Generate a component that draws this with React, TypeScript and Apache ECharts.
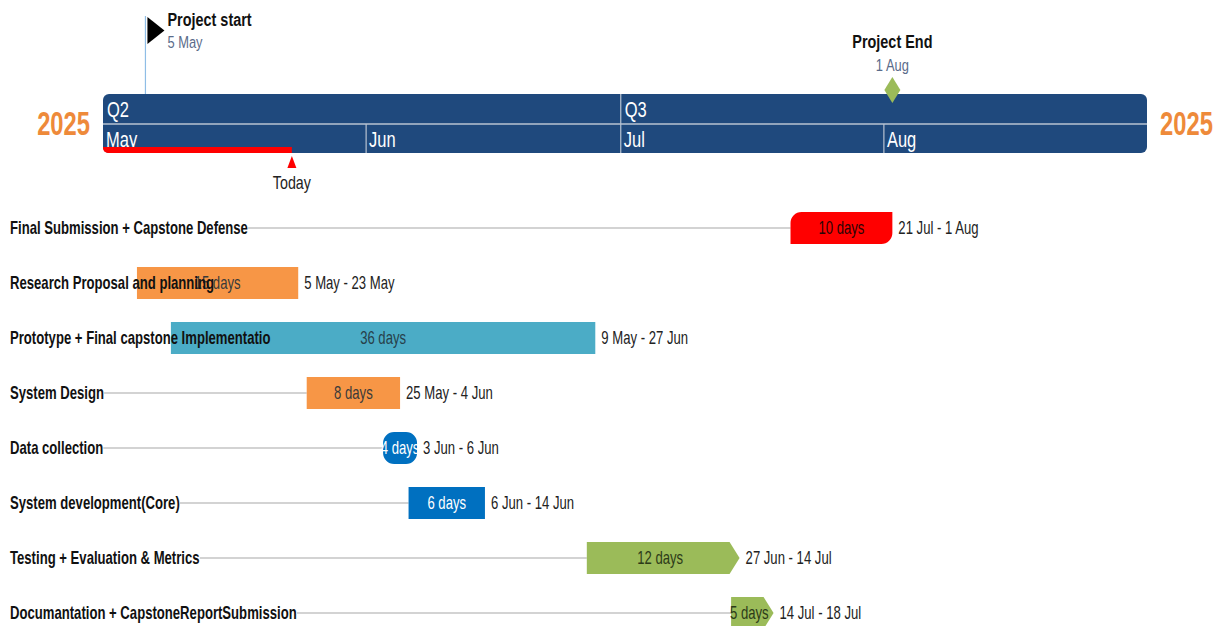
import React, { useEffect, useRef } from "react";
import * as echarts from "echarts";

// ---------- data ----------
const axisStart = "2025-05-01";
const axisEnd = "2025-09-01";

const taskNames = [
  "Final Submission + Capstone Defense",
  "Research Proposal and planning",
  "Prototype + Final capstone Implementatio",
  "System Design",
  "Data collection",
  "System development(Core)",
  "Testing + Evaluation & Metrics",
  "Documantation + CapstoneReportSubmission",
];
const taskStarts = ["2025-07-21", "2025-05-05", "2025-05-09", "2025-05-25", "2025-06-03", "2025-06-06", "2025-06-27", "2025-07-14"];
const taskEnds = ["2025-08-01", "2025-05-23", "2025-06-27", "2025-06-04", "2025-06-06", "2025-06-14", "2025-07-14", "2025-07-18"];
const taskDurations = ["10 days", "15 days", "36 days", "8 days", "4 days", "6 days", "12 days", "5 days"];
const taskRanges = ["21 Jul - 1 Aug", "5 May - 23 May", "9 May - 27 Jun", "25 May - 4 Jun", "3 Jun - 6 Jun", "6 Jun - 14 Jun", "27 Jun - 14 Jul", "14 Jul - 18 Jul"];

const taskColors = ["#FF0000", "#F79646", "#4BACC6", "#F79646", "#0070C0", "#0070C0", "#9BBB59", "#9BBB59"];
const taskTextColors = ["#2a0505", "#3a3a3a", "#27404a", "#3a3a3a", "#ffffff", "#ffffff", "#2c3a18", "#2c3a18"];
const taskShapes = ["diag", "rect", "rect", "rect", "pill", "rect", "arrow", "arrow"];

const monthStarts = ["2025-05-01", "2025-06-01", "2025-07-01", "2025-08-01"];
const monthEnds = ["2025-06-01", "2025-07-01", "2025-08-01", "2025-09-01"];
const monthLabels = ["May", "Jun", "Jul", "Aug"];

const quarterStarts = ["2025-04-01", "2025-07-01"];
const quarterEnds = ["2025-07-01", "2025-10-01"];
const quarterLabels = ["Q2", "Q3"];

const milestoneNames = ["Project start", "Project End"];
const milestoneDates = ["2025-05-05", "2025-08-01"];
const milestoneLabels = ["5 May", "1 Aug"];
const milestoneKinds = ["flag", "diamond"];

const todayDate = "2025-05-23T06:00:00";
const todayLabel = "Today";

// ---------- helpers ----------
const DAY = 86400000;
const t = (s: string) => new Date(s.length > 10 ? s : s + "T00:00:00").getTime();
const FONT = '"Liberation Sans", Arial, sans-serif';
const SX = 0.75; // condensed look

let measureCtx: CanvasRenderingContext2D | null = null;
function measure(text: string, size: number, weight: string, sx: number) {
  if (!measureCtx) measureCtx = document.createElement("canvas").getContext("2d");
  if (!measureCtx) return text.length * size * 0.45 * sx;
  measureCtx.font = `${weight} ${size}px ${FONT}`;
  return measureCtx.measureText(text).width * sx;
}

function txt(text: string, x: number, y: number, o: { size: number; fill: string; weight?: string; align?: string; sx?: number }) {
  return {
    type: "text",
    x,
    y,
    scaleX: o.sx ?? SX,
    style: {
      text,
      x: 0,
      y: 0,
      align: o.align ?? "left",
      verticalAlign: "middle",
      fill: o.fill,
      fontFamily: FONT,
      fontSize: o.size,
      fontWeight: o.weight ?? "normal",
    },
  };
}

const BAND_TOP = 94;
const BAND_MID = 124;
const BAND_BOT = 153;
const BAND_COLOR = "#1F497D";
const DIV_COLOR = "#b9c3d2";
const ROW_H = 55;
const GRID_TOP = 200.5;
const GRID_H = 626 - GRID_TOP;

export default function App() {
  const ref = useRef<HTMLDivElement>(null);

  useEffect(() => {
    if (!ref.current) return;
    const chart = echarts.init(ref.current, undefined, { renderer: "svg" });
    const xMin = t(axisStart);
    const xMax = t(axisEnd);

    const taskData = taskNames.map((_, i) => [t(taskStarts[i]), t(taskEnds[i]) + DAY, i]);

    const option: any = {
      animation: false,
      backgroundColor: "#ffffff",
      grid: { left: 103, width: 1044, top: GRID_TOP, height: GRID_H },
      xAxis: { type: "time", min: xMin, max: xMax, show: false },
      yAxis: { type: "value", inverse: true, min: -0.5, max: -0.5 + GRID_H / ROW_H, show: false },
      series: [
        // timeline band background + year labels
        {
          type: "custom",
          data: [[xMin, xMax]],
          renderItem: (params: any, api: any) => {
            const a = api.coord([api.value(0), 0])[0];
            const b = api.coord([api.value(1), 0])[0];
            const year = String(new Date(api.value(0)).getFullYear());
            return {
              type: "group",
              children: [
                { type: "rect", shape: { x: a, y: BAND_TOP, width: b - a, height: BAND_BOT - BAND_TOP, r: 6 }, style: { fill: BAND_COLOR } },
                { type: "line", shape: { x1: a, y1: BAND_MID, x2: b, y2: BAND_MID }, style: { stroke: DIV_COLOR, lineWidth: 1.5 } },
                txt(year, a - 13, 124, { size: 33, fill: "#EE8A3A", weight: "bold", align: "right", sx: 0.72 }),
                txt(year, b + 13, 124, { size: 33, fill: "#EE8A3A", weight: "bold", align: "left", sx: 0.72 }),
              ],
            };
          },
          z: 1,
        },
        // quarters
        {
          type: "custom",
          data: quarterStarts.map((s, i) => [t(s), t(quarterEnds[i]), i]),
          renderItem: (params: any, api: any) => {
            const i = params.dataIndex;
            const s = Math.max(api.value(0), xMin);
            const x = api.coord([s, 0])[0];
            const children: any[] = [txt(quarterLabels[i], x + 4, 109.5, { size: 22, fill: "#ffffff" })];
            if (api.value(0) > xMin) children.push({ type: "line", shape: { x1: x, y1: BAND_TOP, x2: x, y2: BAND_MID }, style: { stroke: DIV_COLOR, lineWidth: 1.2 } });
            return { type: "group", children };
          },
          z: 2,
        },
        // months
        {
          type: "custom",
          data: monthStarts.map((s, i) => [t(s), t(monthEnds[i]), i]),
          renderItem: (params: any, api: any) => {
            const i = params.dataIndex;
            const x = api.coord([api.value(0), 0])[0];
            const children: any[] = [txt(monthLabels[i], x + 3, 139.5, { size: 22, fill: "#ffffff" })];
            if (api.value(0) > xMin) children.push({ type: "line", shape: { x1: x, y1: BAND_MID, x2: x, y2: BAND_BOT }, style: { stroke: DIV_COLOR, lineWidth: 1.2 } });
            return { type: "group", children };
          },
          z: 2,
        },
        // today
        {
          type: "custom",
          data: [[t(todayDate)]],
          renderItem: (params: any, api: any) => {
            const a = api.coord([xMin, 0])[0];
            const x = api.coord([api.value(0), 0])[0];
            return {
              type: "group",
              children: [
                { type: "rect", shape: { x: a, y: 147, width: x - a, height: 6, r: [0, 0, 0, 5] }, style: { fill: "#FF0000" } },
                { type: "polygon", shape: { points: [[x - 4.5, 168], [x, 156], [x + 4.5, 168]] }, style: { fill: "#FF0000" } },
                txt(todayLabel, x, 183, { size: 19, fill: "#222222", align: "center" }),
              ],
            };
          },
          z: 3,
        },
        // milestones
        {
          type: "custom",
          data: milestoneDates.map((d, i) => [t(d) + DAY, i]),
          renderItem: (params: any, api: any) => {
            const i = params.dataIndex;
            const x = api.coord([api.value(0), 0])[0];
            if (milestoneKinds[i] === "flag") {
              return {
                type: "group",
                children: [
                  { type: "line", shape: { x1: x, y1: 16, x2: x, y2: BAND_TOP }, style: { stroke: "#8fbde6", lineWidth: 1.2 } },
                  { type: "polygon", shape: { points: [[x + 2, 17], [x + 19, 30.5], [x + 2, 44]] }, style: { fill: "#000000" } },
                  txt(milestoneNames[i], x + 22, 20, { size: 19, fill: "#111111", weight: "bold", sx: 0.76 }),
                  txt(milestoneLabels[i], x + 22, 42, { size: 17, fill: "#5a6b8a", sx: 0.76 }),
                ],
              };
            }
            return {
              type: "group",
              children: [
                { type: "polygon", shape: { points: [[x, 77], [x + 8, 90], [x, 103], [x - 8, 90]] }, style: { fill: "#9BBB59" } },
                txt(milestoneNames[i], x, 42, { size: 19, fill: "#111111", weight: "bold", align: "center", sx: 0.76 }),
                txt(milestoneLabels[i], x, 65, { size: 17, fill: "#5a6b8a", align: "center", sx: 0.76 }),
              ],
            };
          },
          z: 4,
        },
        // tasks
        {
          type: "custom",
          data: taskData,
          renderItem: (params: any, api: any) => {
            const i = params.dataIndex;
            const s = api.coord([api.value(0), api.value(2)]);
            const e = api.coord([api.value(1), api.value(2)]);
            const x0 = s[0];
            const x1 = e[0];
            const yc = s[1];
            const h = 32;
            const y0 = yc - h / 2;
            const children: any[] = [];
            const labelEnd = 10 + measure(taskNames[i], 17.5, "bold", SX);
            if (x0 > labelEnd) {
              children.push({ type: "line", shape: { x1: labelEnd, y1: yc, x2: x0, y2: yc }, style: { stroke: "#d3d3d3", lineWidth: 2 } });
            }
            const fill = taskColors[i];
            const shape = taskShapes[i];
            if (shape === "arrow") {
              children.push({ type: "polygon", shape: { points: [[x0, y0], [x1 - 10, y0], [x1, yc], [x1 - 10, y0 + h], [x0, y0 + h]] }, style: { fill } });
            } else if (shape === "pill") {
              children.push({ type: "rect", shape: { x: x0, y: y0, width: x1 - x0, height: h, r: 11 }, style: { fill } });
            } else if (shape === "diag") {
              children.push({ type: "rect", shape: { x: x0, y: y0, width: x1 - x0, height: h, r: [11, 0, 11, 0] }, style: { fill } });
            } else {
              children.push({ type: "rect", shape: { x: x0, y: y0, width: x1 - x0, height: h }, style: { fill } });
            }
            const cx = shape === "arrow" ? (x0 + x1 - 6) / 2 : (x0 + x1) / 2;
            children.push(txt(taskDurations[i], cx, yc, { size: 17.5, fill: taskTextColors[i], align: "center" }));
            children.push(txt(taskRanges[i], x1 + 6, yc, { size: 17.5, fill: "#222222" }));
            children.push(txt(taskNames[i], 10, yc, { size: 17.5, fill: "#111111", weight: "bold" }));
            return { type: "group", children };
          },
          z: 5,
        },
      ],
    };
    chart.setOption(option);
    return () => chart.dispose();
  }, []);

  return <div ref={ref} style={{ position: "fixed", left: 0, top: 0, width: 1230, height: 626, background: "#fff" }} />;
}
